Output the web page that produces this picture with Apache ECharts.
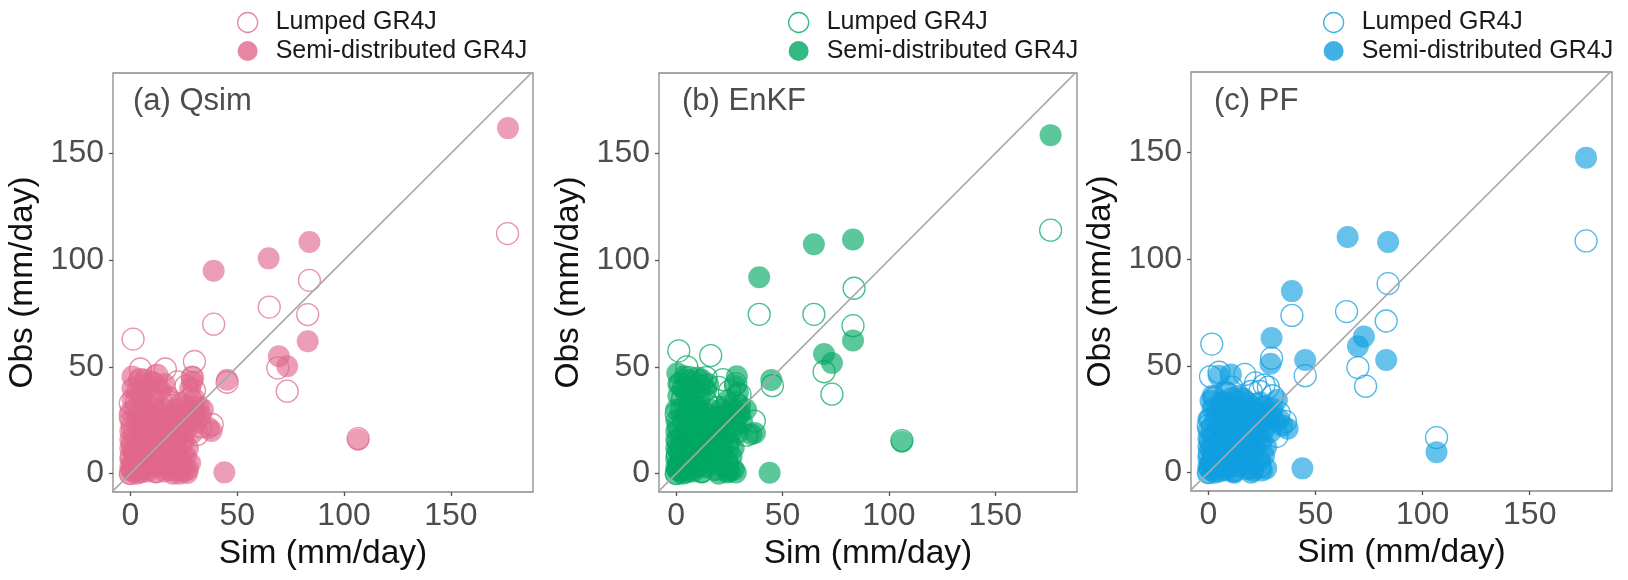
<!DOCTYPE html>
<html>
<head>
<meta charset="utf-8">
<script src="https://cdn.jsdelivr.net/npm/echarts@6/dist/echarts.min.js"></script>
<style>
html,body{margin:0;padding:0;background:#fff;}
#chart{width:1628px;height:580px;}
</style>
</head>
<body>
<div id="chart"></div>
<script>
// ---------- data ----------
const tickValues = [0, 50, 100, 150];
const panelLabels = ['(a) Qsim', '(b) EnKF', '(c) PF'];
const legendNames = ['Lumped GR4J', 'Semi-distributed GR4J'];
const panelColors = ['#E0688B', '#00A862', '#109EDF'];
const xTitle = 'Sim (mm/day)';
const yTitle = 'Obs (mm/day)';

const lumpedA = [
  [176.5,112.4],[83.8,90.5],[65,78],[39,70],[83,74.5],[69,49.5],[73.4,38.6],[1.3,63],[30,52.5],
  [16.4,49],[4.7,49],[45.3,42.8],[106.6,16.4],[26,41],[30,39],[38.3,23],[31.3,18.3],[1,22],
  [0,27],[23.4,12.8],[12.5,46],[0,0],[1,1.5],[2,4],[0.5,8],[3,11],[1,14],[5,3],[7,9],[4,17],
  [2,20],[9,15],[11,6],[14,11],[8,24],[13,19],[17,15],[6,30],[10,28],[16,24],[19,8],[21,19],
  [25,28],[3,34],[9,38],[14,35],[20,32],[27,24],[24,4],[12,1],[18,2],[5,44],[11,42],[22,43],
  [28,35],[29,45],[33,22],[24,17],[0,33]
];
const semiA = [
  [176.7,161.8],[83.8,108.5],[64.7,100.8],[39,95],[83,62],[69.5,55],[73.4,50.3],[45.3,44],
  [106.6,15.9],[44,0.6],[29,45.5],[29,43],[1,45.5],[4,44],[10,43],[1,35],[18,36],[32,31.5],
  [36.7,21.4],[26.6,0.3],[22,1.5],[16,1],[0,0],[0.5,2],[1,5],[2,1],[3,8],[1,11],[4,14],[6,4],
  [8,1],[7,10],[2,17],[5,20],[9,16],[11,7],[13,12],[10,22],[3,24],[7,27],[12,26],[15,18],
  [17,9],[14,3],[19,14],[20,22],[23,18],[24,28],[26,31],[28,25],[22,27],[16,30],[2,30],[6,33],
  [11,35],[14,39],[8,40],[19,2],[12,0.5],[5,0.5],[24,6],[21,10],[27,12],[30,28],[34,30],[25,1],
  [30,35],[28,40],
  [0,3],[0,7],[0,12],[0,16],[0,20],[0,25],[3,0],[4,5],[6,7],[5,11],[8,5],[9,9],[10,13],[6,16],
  [8,19],[12,16],[13,8],[15,5],[16,12],[18,6],[17,19],[20,16],[21,4],[22,12],[23,23],[19,25],
  [15,23],[11,19],[13,29],[9,27],[4,27],[18,27],[25,15],[26,20],[26,8],[29,19],[31,24],[27,2],
  [20,0],[3,38],[7,44],[1,40],[12,46],[16,42],[0,29],[5,36],[10,31],[2,9],[7,2],[10,3],[14,14],
  [19,19],[3,4],[6,23],[21,30],[24,33],[30,31],[33,27],[38,20],[28,5],[23,0]
];
const lumpedB = [
  [176,114],[83.6,86.8],[64.7,74.6],[39,74.6],[83.1,69.3],[69.5,47.7],[73.2,37.2],[45.2,41.2],
  [1.2,57.5],[16.2,55.3],[5,50],[14,45],[20,40.4],[25,38.6],[36.7,24.6],[28,42],[1,22],[33,18],
  [106.1,15.5],[0,0],[1,2],[2,5],[0.5,9],[3,12],[1,15],[5,3],[7,8],[4,18],[2,21],[9,14],[11,5],
  [14,10],[8,25],[13,20],[17,16],[6,31],[10,29],[16,25],[19,7],[21,18],[25,27],[3,35],[9,39],
  [14,34],[20,31],[27,23],[24,3],[12,1],[18,2],[6,45],[11,41],[22,44],[28,33],[2,42],[0,28],
  [30,37],[24,12]
];
const semiB = [
  [176,158.5],[83.1,109.6],[64.7,107.4],[39,92],[83.1,62.3],[69.5,56],[73.2,51.8],[44.7,43.9],
  [106.1,14.9],[43.9,0.4],[28.5,45.6],[27.6,41.2],[0.5,47],[4,45.6],[12,44],[1,36.5],[8,35],
  [32.8,30],[35.3,18.4],[24,0.5],[28,0.5],[0,0],[0.5,2],[1,5],[2,1],[3,8],[1,11],[4,14],[6,4],
  [8,1],[7,10],[2,17],[5,20],[9,16],[11,7],[13,12],[10,22],[3,24],[7,27],[12,26],[15,18],
  [17,9],[14,3],[19,14],[20,22],[23,18],[24,28],[26,31],[28,25],[22,27],[16,30],[2,30],[6,33],
  [11,35],[14,39],[8,40],[19,2],[12,0.5],[5,0.5],[24,6],[21,10],[27,12],[30,28],[25,1],[29,38],
  [0,3],[0,7],[0,12],[0,16],[0,20],[0,25],[3,0],[4,5],[6,7],[5,11],[8,5],[9,9],[10,13],[6,16],
  [8,19],[12,16],[13,8],[15,5],[16,12],[18,6],[17,19],[20,16],[21,4],[22,12],[23,23],[19,25],
  [15,23],[11,19],[13,29],[9,27],[4,27],[18,27],[25,15],[26,20],[26,8],[29,19],[31,24],[27,2],
  [20,0],[3,40],[6,44],[1,42],[10,45],[15,42],[0,30],[5,37],[10,31],[2,9],[7,2],[10,3],[14,14],
  [19,19],[3,4],[6,23],[21,30],[24,34],[30,32],[37,19]
];
const lumpedC = [
  [176.3,108.5],[83.9,88.5],[64.5,75.4],[39,73.6],[83,71],[69.8,49.2],[73.4,40.5],[45.2,45.4],
  [29.5,53.6],[1.6,60.2],[106.5,16.4],[1,45],[17,46],[26,41],[28,40],[32,17],[5,47],[1,25],
  [24,38],[0,0],[1,2],[2,5],[0.5,9],[3,12],[1,15],[5,3],[7,8],[4,18],[2,21],[9,14],[11,5],
  [14,10],[8,25],[13,20],[17,16],[6,31],[10,29],[16,25],[19,7],[21,18],[25,27],[3,35],[9,37],
  [14,33],[20,31],[27,23],[24,3],[12,1],[18,2],[11,40],[22,42],[30,36],[36,24],[0,22],[33,28],
  [20,38]
];
const semiC = [
  [176.3,147.5],[65,110.3],[83.9,108],[39,85],[29.5,63],[72.6,63.7],[69.8,59.2],[83,52.7],
  [45.2,52.7],[29,51],[106.5,9.6],[43.9,2],[4.8,45.4],[10.5,46],[1,33.5],[34.7,22],[37,20.6],
  [21,1],[30,30],[0,0],[0.5,2],[1,5],[2,1],[3,8],[1,11],[4,14],[6,4],[8,1],[7,10],[2,17],[5,20],
  [9,16],[11,7],[13,12],[10,22],[3,24],[7,27],[12,26],[15,18],[17,9],[14,3],[19,14],[20,22],
  [23,18],[24,28],[26,31],[28,25],[22,27],[16,30],[2,30],[6,33],[11,35],[14,36],[8,38],[19,2],
  [12,0.5],[5,0.5],[24,6],[21,10],[27,12],[32,34],[25,1],[18,33],
  [0,3],[0,7],[0,12],[0,16],[0,20],[0,25],[3,0],[4,5],[6,7],[5,11],[8,5],[9,9],[10,13],[6,16],
  [8,19],[12,16],[13,8],[15,5],[16,12],[18,6],[17,19],[20,16],[21,4],[22,12],[23,23],[19,25],
  [15,23],[11,19],[13,29],[9,27],[4,27],[18,27],[25,15],[26,20],[26,8],[29,19],[31,24],[27,2],
  [20,0],[2,36],[7,33],[10,32],[2,9],[7,2],[10,3],[14,14],[19,19],[3,4],[6,23],[21,30],
  [24,33],[29,27],[33,25],[16,35],[12,0]
];
const lumpedSets = [lumpedA, lumpedB, lumpedC];
const semiSets = [semiA, semiB, semiC];
const diagonal = [[-20,-20],[220,220]];

// ---------- layout ----------
const FONT = "'Liberation Sans', Arial, Helvetica, sans-serif";
const grids = [
  {left: 113, top: 73, width: 420, height: 419},
  {left: 659, top: 73, width: 418, height: 419},
  {left: 1191, top: 72, width: 421, height: 419}
];
const titlePos = [{left: 133, top: 86}, {left: 682, top: 86}, {left: 1214, top: 86}];
const legendLeft = [237, 788, 1323];
const xMin = -8.1, xMax = 188.4, yMin = -8.6, yMax = 187.6;

function hexA(hex, a) {
  const n = parseInt(hex.slice(1), 16);
  return 'rgba(' + (n >> 16 & 255) + ',' + (n >> 8 & 255) + ',' + (n & 255) + ',' + a + ')';
}

const option = {
  animation: false,
  backgroundColor: '#fff',
  textStyle: {fontFamily: FONT},
  grid: [], xAxis: [], yAxis: [], series: [], title: [], legend: []
};

for (let i = 0; i < 3; i++) {
  const c = panelColors[i];
  option.grid.push(Object.assign({
    show: true, borderColor: '#8a8a8a', borderWidth: 1.3, backgroundColor: 'transparent'
  }, grids[i]));
  const axisCommon = {
    type: 'value', gridIndex: i,
    axisLine: {show: false, onZero: false},
    splitLine: {show: false},
    axisTick: {show: true, length: 4, lineStyle: {color: '#555', width: 1.3}, customValues: tickValues},
    axisLabel: {fontSize: 32, color: '#4d4d4d', fontFamily: FONT, customValues: tickValues},
    nameLocation: 'middle',
    nameTextStyle: {fontSize: 33.5, color: '#111', fontFamily: FONT}
  };
  option.xAxis.push(Object.assign({}, axisCommon, {
    min: xMin, max: xMax, name: xTitle, nameGap: 42,
    axisLabel: Object.assign({}, axisCommon.axisLabel, {margin: 8})
  }));
  option.yAxis.push(Object.assign({}, axisCommon, {
    min: yMin, max: yMax, name: yTitle, nameGap: 73,
    axisLabel: Object.assign({}, axisCommon.axisLabel, {margin: 9})
  }));
  option.series.push({
    type: 'scatter', name: legendNames[0], xAxisIndex: i, yAxisIndex: i,
    data: lumpedSets[i], symbol: 'circle', symbolSize: 22, z: 2,
    itemStyle: {color: 'rgba(255,255,255,0)', borderColor: hexA(c, 0.9), borderWidth: 1.3},
    emphasis: {disabled: true}
  });
  option.series.push({
    type: 'scatter', name: legendNames[1], xAxisIndex: i, yAxisIndex: i,
    data: semiSets[i], symbol: 'circle', symbolSize: 22, z: 3,
    itemStyle: {color: hexA(c, 0.8)},
    emphasis: {disabled: true}
  });
  option.series.push({
    type: 'line', xAxisIndex: i, yAxisIndex: i, data: diagonal, symbol: 'none', z: 4,
    lineStyle: {color: '#a8a8a8', width: 1.6}, clip: true, silent: true
  });
  option.title.push({
    text: panelLabels[i], left: titlePos[i].left, top: titlePos[i].top, padding: 0,
    textStyle: {fontSize: 31, fontWeight: 'normal', color: '#4d4d4d', fontFamily: FONT}
  });
  option.legend.push({
    orient: 'vertical', left: legendLeft[i], top: 10, padding: 0,
    itemWidth: 46, itemHeight: 20, itemGap: 3.5, selectedMode: false,
    textStyle: {fontSize: 25, color: '#1a1a1a', fontFamily: FONT, lineHeight: 25},
    data: [
      {name: legendNames[0], icon: 'circle',
       itemStyle: {color: '#fff', borderColor: c, borderWidth: 1.3}},
      {name: legendNames[1], icon: 'circle',
       itemStyle: {color: c, borderWidth: 0}}
    ]
  });
}

const chart = echarts.init(document.getElementById('chart'), null, {renderer: 'canvas'});
chart.setOption(option);
</script>
</body>
</html>
